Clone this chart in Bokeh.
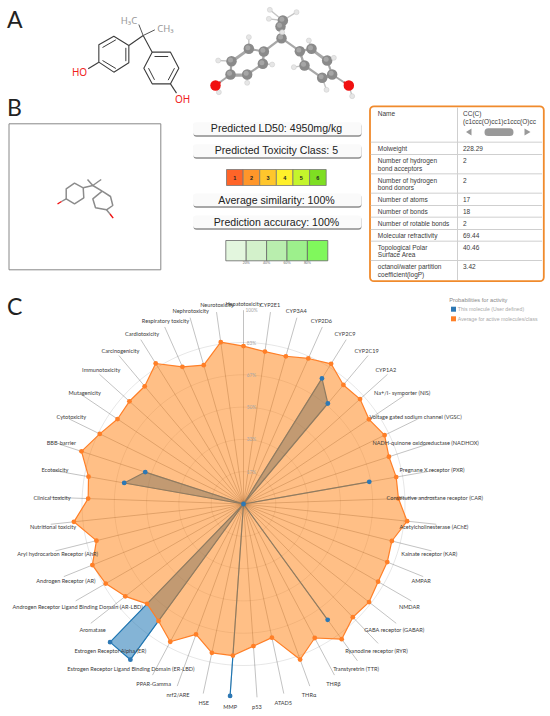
import math
from bokeh.plotting import figure
from bokeh.models import Range1d
from bokeh.core.properties import value
from bokeh.embed import file_html
from bokeh.resources import INLINE

# ---------- radar data ----------
targets = ["Hepatotoxicity","CYP2E1","CYP3A4","CYP2D6","CYP2C9","CYP2C19","CYP1A2",
 "Na+/I- symporter (NIS)","Voltage gated sodium channel (VGSC)","NADH-quinone oxidoreductase (NADHOX)",
 "Pregnane X receptor (PXR)","Constitutive androstane receptor (CAR)","Acetylcholinesterase (AChE)",
 "Kainate receptor (KAR)","AMPAR","NMDAR","GABA receptor (GABAR)","Ryanodine receptor (RYR)",
 "Transtyretrin (TTR)","THRβ","THRα","ATAD5","p53","MMP","HSE","nrf2/ARE","PPAR-Gamma",
 "Estrogen Receptor Ligand Binding Domain (ER-LBD)","Estrogen Receptor Alpha (ER)","Aromatase",
 "Androgen Receptor Ligand Binding Domain (AR-LBD)","Androgen Receptor (AR)","Aryl hydrocarbon Receptor (AhR)",
 "Nutritional toxicity","Clinical toxicity","Ecotoxicity","BBB-barrier","Cytotoxicity","Mutagenicity",
 "Immunotoxicity","Carcinogenicity","Cardiotoxicity","Respiratory toxicity","Nephrotoxicity","Neurotoxicity"]
average_active = [81.5,79.4,79.3,82.2,85.3,80.2,80.9,78.1,81.0,78.9,80.0,80.0,84.9,78.9,80.0,80.2,82.2,81.2,
 86.2,78.3,85.4,70.5,73.5,78.4,78.5,71.6,80.5,74.6,71.6,77.4,82.1,84.1,78.2,88.0,80.2,81.2,87.9,82.5,78.4,
 79.2,79.3,85.5,77.5,74.5,84.3]
this_molecule = [0,0,0,0,76.4,67.7,0,0,0,0,65.9,0,0,0,0,0,0,0,73.9,0,0,0,0,99.3,0,0,0,99.3,99.1,0,0,0,0,0,0,
 62.5,53.3,0,0,0,0,0,0,0,0]
tick_labels = ["17%","33%","50%","67%","83%","100%"]
tick_values = [16.67,33.33,50,66.67,83.33,100]
legend_title = "Probabilities for activity"
legend_names = ["This molecule (User defined)","Average for active molecules/class"]

# ---------- panel B data ----------
gauge_texts = ["Predicted LD50: 4950mg/kg","Predicted Toxicity Class: 5","Average similarity: 100%","Prediction accuracy: 100%"]
class_labels = ["1","2","3","4","5","6"]
class_colors = ["#ff6428","#ff962a","#ffc62c","#fff02a","#c4f52c","#7ede22"]
accuracy_labels = ["20%","40%","60%","80%"]
accuracy_colors = ["#e3f6de","#d3f1cb","#b9eeae","#9df08c","#80f85c"]
table_names = [["Name"],["Molweight"],["Number of hydrogen","bond acceptors"],["Number of hydrogen","bond donors"],
 ["Number of atoms"],["Number of bonds"],["Number of rotable bonds"],["Molecular refractivity"],
 ["Topological Polar","Surface Area"],["octanol/water partition","coefficient(logP)"]]
table_values = [["CC(C)","(c1ccc(O)cc1)c1ccc(O)cc"],["228.29"],["2"],["2"],["17"],["18"],["2"],["69.44"],["40.46"],["3.42"]]

p = figure(width=550, height=716, x_range=Range1d(0,550), y_range=Range1d(716,0),
           output_backend="svg", toolbar_location=None, min_border=0, outline_line_color=None)
p.axis.visible = False
p.grid.visible = False

def txt(x, y, s, size, color="#333", font="Liberation Sans", align="left", base="middle", style="normal"):
    p.text([x],[y],text=[s],text_font=value(font),text_font_size=f"{size}px",text_color=color,
           text_align=align,text_baseline=base,text_font_style=style)

def poly(pts, color="#333", w=1.0, alpha=1.0):
    p.line([a[0]/3 for a in pts],[a[1]/3 for a in pts],line_color=color,line_width=w,line_alpha=alpha)

# ---------- panel letters ----------
for s,y in (("A",18.5),("B",106.5),("C",305)):
    txt(6.5,y,s,23,"#222","Lato")

# ---------- molecule, skeletal (A) ----------
ink="#3c3c3c"
L=[(385,135),(340,107),(295,133),(295,185),(340,215),(385,187),(385,135)]
R=[(455,155),(510,155),(535,203),(510,250),(455,250),(430,203),(455,155)]
poly(L,ink,1.1); poly(R,ink,1.1)
for a in ([(346,118),(306,141)],[(306,180),(346,204)],[(376,142),(376,182)]):
    poly(a,ink,1.0)
for a in ([(462,168),(503,168)],[(522,203),(503,239)],[(462,238),(444,203)]):
    poly(a,ink,1.0)
poly([(385,135),(428,105),(455,155)],ink,1.1)
poly([(428,105),(415,72)],"#555",1.0); poly([(428,105),(463,88)],"#555",1.0)
poly([(295,185),(263,205)],ink,1.1); poly([(510,250),(528,278)],ink,1.1)
txt(128.5,19.5,"H₃C",9.5,"#999","Noto Sans","center")
txt(165,27.5,"CH₃",9.5,"#999","Noto Sans","center")
txt(79,71.5,"HO",10,"#f02020","Noto Sans","center")
txt(182,98,"OH",10,"#f02020","Noto Sans","center")

# ---------- molecule, ball and stick (A) ----------
C3=[(843,113),(847,60),(840,78),(790,153),(745,145),(693,182),(690,222),(740,222),(787,190),
    (898,152),(933,145),(980,180),(995,222),(965,232),(912,195)]
bonds=[(0,1),(0,2),(0,3),(0,9),(3,4),(4,5),(5,6),(6,7),(7,8),(8,3),(9,10),(10,11),(11,12),(12,13),(13,14),(14,9)]
for a,b in bonds:
    poly([C3[a],C3[b]],"#a8a8a8",2.2)
for a,b in ((4,5),(8,3),(10,11),(14,9),(6,7),(12,13)):
    dx=0;dy=4
    poly([(C3[a][0],C3[a][1]+dy),(C3[b][0],C3[b][1]+dy)],"#a8a8a8",1.6)
H3=[(745,110),(653,180),(815,192),(740,247),(655,275),(925,120),(1000,172),(880,200),(978,268),(1055,287),
    (808,28),(888,35),(805,55),(845,95)]
Hbond=[(745,145),(693,182),(787,190),(740,222),(645,255),(933,145),(980,180),(912,195),(965,232),(1045,255),
    (847,60),(847,60),(847,60),(843,113)]
for h,c in zip(H3,Hbond):
    poly([h,c],"#c4c4c4",1.4)
poly([(690,222),(645,255)],"#a8a8a8",2); poly([(995,222),(1045,255)],"#a8a8a8",2)
poly([(660,245),(645,255)],"#ee2020",2); poly([(1030,245),(1045,255)],"#ee2020",2)
p.scatter([a[0]/3 for a in C3],[a[1]/3 for a in C3],size=10.5,fill_color="#8a8a8a",line_color="#8a8a8a",line_width=0)
p.scatter([a[0]/3-1 for a in C3],[a[1]/3-1.2 for a in C3],size=5,fill_color="#a6a6a6",line_color=None)
p.scatter([a[0]/3 for a in H3],[a[1]/3 for a in H3],size=5,fill_color="#e6e6e6",line_color="#c8c8c8",line_width=0.5)
p.scatter([645/3,1045/3],[255/3,255/3],size=10.5,fill_color="#f01010",line_color=None)

# ---------- panel B box & small molecule ----------
p.quad(left=[8.5],right=[160.3],top=[123.3],bottom=[269.3],fill_color="white",line_color="#888",line_width=1)
g="#8c8c8c"
pl=[(82.7,187.3),(74,182.7),(65.7,188.3),(65.7,198.3),(74,203.3),(83.3,197.3),(82.7,187.3)]
pr=[(101.7,190.7),(110,196),(112.3,205),(106,209.3),(95,207.3),(92.3,198.3),(101.7,190.7)]
for pts in (pl,pr,[(82.7,187.3),(92.3,185),(101.7,190.7)],[(92.3,185),(87,179)],[(92.3,185),(100.7,179)]):
    p.line([a[0] for a in pts],[a[1] for a in pts],line_color=g,line_width=1.5)
p.line([65.7,61],[198.3,201],line_color=g,line_width=1.4)
p.line([61,57],[201,203.5],line_color="#f01010",line_width=1.4)
p.line([106,109.5],[209.3,213.5],line_color=g,line_width=1.4)
p.line([109.5,112.7],[213.5,217.7],line_color="#f01010",line_width=1.4)

# ---------- gauges ----------
for (t,b),s in zip(((121.7,135),(143.7,157),(193,206),(215,228)),gauge_texts):
    p.quad(left=[193],right=[361],top=[t+1],bottom=[b+1.2],fill_color="#8c8c8c",line_color=None,border_radius=3)
    p.quad(left=[192.5],right=[361],top=[t],bottom=[b-0.3],fill_color="#fafafa",line_color=None,border_radius=3)
    txt(276,(t+b)/2-0.5,s,10.6,"#222","Liberation Sans","center")
cw=(325.7-226)/6
for i,(c,s) in enumerate(zip(class_colors,class_labels)):
    p.quad(left=[226+i*cw],right=[226+(i+1)*cw],top=[169],bottom=[185],fill_color=c,line_color="#777",line_width=0.8)
    txt(226+(i+0.5)*cw,177,s,5.5,"#222","Liberation Sans","center","middle","bold")
cw=(327.3-225.3)/5
for i,c in enumerate(accuracy_colors):
    p.quad(left=[225.3+i*cw],right=[225.3+(i+1)*cw],top=[240],bottom=[260.3],fill_color=c,line_color="#666",line_width=0.8)
for i,s in enumerate(accuracy_labels):
    txt(225.3+(i+1)*cw,262.5,s,3.5,"#666","Liberation Sans","center")

# ---------- property table ----------
p.quad(left=[369.5],right=[543.3],top=[105.8],bottom=[280.7],fill_color="white",line_color="#f08a2c",line_width=1.8,
       border_radius=4)
row_lines=[100+v/3 for v in (125,162,220,278,315,350,387,422,480)]
tops=[107]+row_lines
x0,x1=370.2,541.6
p.segment(x0=[x0]*len(row_lines),x1=[x1]*len(row_lines),y0=row_lines,y1=row_lines,line_color="#cfcfcf",line_width=1)
p.segment(x0=[457],x1=[457],y0=[107],y1=[279.5],line_color="#cfcfcf",line_width=1)
for top,ns,vs in zip(tops,table_names,table_values):
    for j,s in enumerate(ns):
        txt(377.3,top+6.4+j*7.3,s,6.5,"#3a3a3a")
    for j,s in enumerate(vs):
        txt(462.5,top+6.4+j*7.3,s,6.5,"#3a3a3a")
p.patch([471,471,465.5],[128,135,131.5],fill_color="#999",line_color=None)
p.patch([524,524,530],[128,135,131.5],fill_color="#999",line_color=None)
p.quad(left=[484],right=[513],top=[127.8],bottom=[135.5],fill_color="#999",line_color=None,border_radius=4)

# ---------- radar ----------
cx,cy=243,503.5
unit=1.938
def xy(angle_idx,v):
    th=math.radians(angle_idx*360/len(targets))
    return cx+v*unit*math.sin(th), cy-v*unit*math.cos(th)
# rings
ts=[i*2 for i in range(181)]
for v in tick_values[:-1]:
    p.line([cx+v*unit*math.sin(math.radians(a)) for a in ts],[cy-v*unit*math.cos(math.radians(a)) for a in ts],
           line_color="#000",line_alpha=0.11,line_width=0.9)
n=len(targets)
ends=[xy(i,100) for i in range(n)]
p.segment(x0=[cx]*n,y0=[cy]*n,x1=[e[0] for e in ends],y1=[e[1] for e in ends],line_color="#000",line_alpha=0.3,line_width=0.8)
bl=[xy(i,v) for i,v in enumerate(this_molecule)]
og=[xy(i,v) for i,v in enumerate(average_active)]
p.patch([a[0] for a in bl],[a[1] for a in bl],fill_color="#1f77b4",fill_alpha=0.55,line_color="#1f77b4",line_width=1.2)
p.patch([a[0] for a in og],[a[1] for a in og],fill_color="#ff7f0e",fill_alpha=0.5,line_color="#ff7f27",line_width=1.2)
nz=[a for a,v in zip(bl,this_molecule) if v>0]+[(cx,cy)]
p.scatter([a[0] for a in nz],[a[1] for a in nz],size=4.8,fill_color="#2d78b4",line_color=None)
p.scatter([a[0] for a in og],[a[1] for a in og],size=4.8,fill_color="#ff7f27",line_color=None)
for i,s in enumerate(targets):
    th=math.radians(i*360/n)
    txt(cx+191.5*math.sin(th),cy-202*math.cos(th)+1,s,5.6,"#3a3a3a","Lato","center")
for v,s in zip(tick_values,tick_labels):
    txt(cx+8,cy-v*unit,s,4.8,"#a8a8a8","Lato","center")
# legend
txt(448.7,299.7,legend_title,5.7,"#888","Liberation Sans")
p.scatter([453],[308.7],marker="square",size=5,fill_color="#2d78b4",line_color=None)
p.scatter([453],[318.3],marker="square",size=5,fill_color="#ff7f27",line_color=None)
txt(457.3,308.7,legend_names[0],5.2,"#aaa","Liberation Sans")
txt(457.3,318.3,legend_names[1],5.2,"#aaa","Liberation Sans")

open("out.html","w").write(file_html(p,INLINE))
